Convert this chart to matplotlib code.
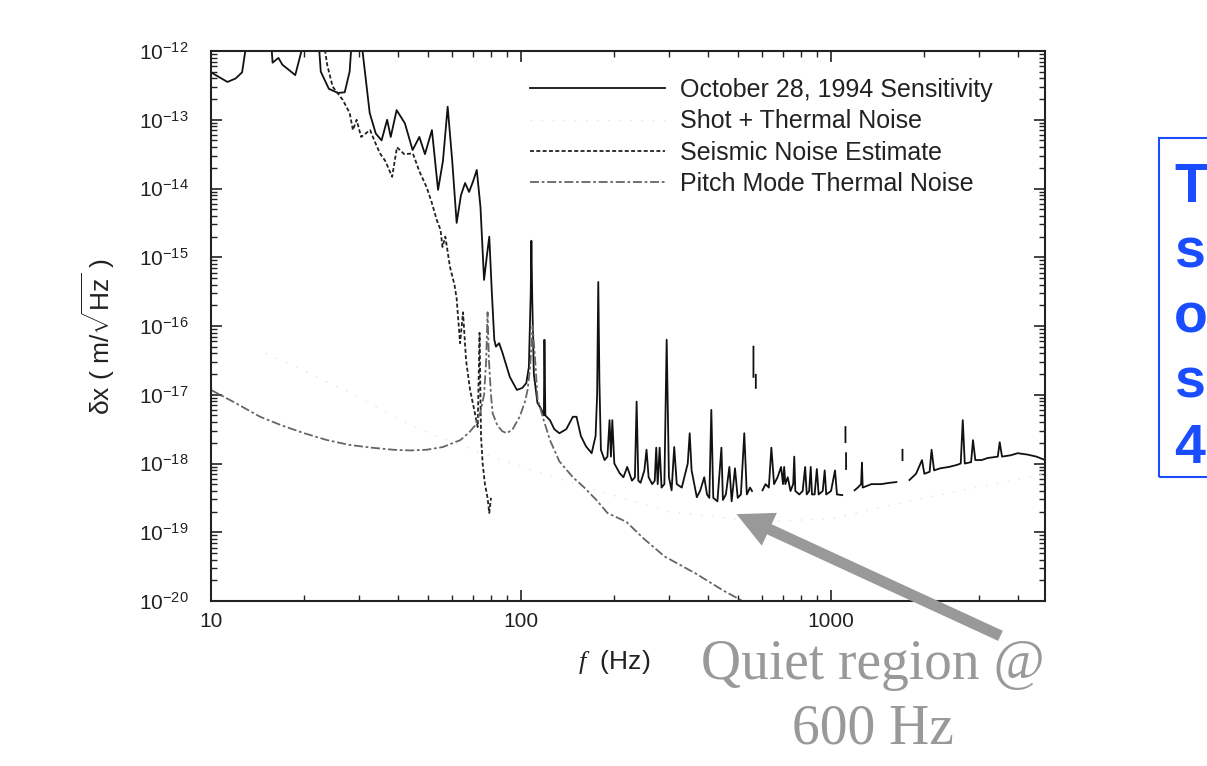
import numpy as np
import matplotlib
matplotlib.use("Agg")
import matplotlib.pyplot as plt
from matplotlib.patches import Rectangle, FancyArrowPatch

plt.rcParams['font.family'] = ['Liberation Sans', 'DejaVu Sans']
plt.rcParams['mathtext.fontset'] = 'custom'
plt.rcParams['mathtext.rm'] = 'Liberation Sans'
plt.rcParams['mathtext.it'] = 'Liberation Serif:italic'

# October 28, 1994 sensitivity (log10 of m/sqrt(Hz)), nan = gap in trace
sens_f = [10.0, 11.3, 12.0, 12.6, 13.1, 15.6, 15.8, 16.5, 17.0, 18.7, 20.1, 22.2, 22.6, 24.0, 25.7, 27.0, 28.0, 28.5,
          30.5, 31.0, 32.5, 34.0, 35.5, 37.0, 38.0, 39.7, 42.2, 44.7, 47.0, 49.0, 51.6, 54.0, 56.0, 58.0, 60.0, 62.0,
          64.0, 66.0, 68.0, 70.0, 72.0, 74.0, 76.0, 77.5, 79.0, 80.5, 82.0, 83.0, 85.0, 87.0, 92.0, 97.0, 101.0,
          104.0, 106.0, 107.5, 108.0, 108.7, 110.0, 113.0, 116.0, 118.5, 119.0, 119.8, 124.0, 128.0, 133.0, 140.0,
          147.0, 151.0, 156.0, 162.0, 169.0, 174.0, 176.0, 177.5, 179.0, 181.0, 186.0, 190.0, 193.0, 195.0, 197.0,
          200.0, 208.0, 214.0, 220.0, 228.0, 233.0, 236.0, 239.0, 243.0, 250.0, 254.0, 258.0, 265.0, 270.0, 273.0,
          276.0, 280.0, 284.0, 290.0, 295.0, 300.0, 306.0, 312.0, 318.0, 330.0, 345.0, 350.0, 355.0, 362.0, 369.0,
          378.0, 390.0, 398.0, 405.0, 411.0, 417.0, 430.0, 443.0, 448.0, 458.0, 470.0, 478.0, 490.0, 500.0, 512.0,
          525.0, 535.0, 548.0, 556.0, np.nan, 562.0, 562.0, np.nan, 572.0, 572.0, np.nan,
          601.0, 615.0, 630.0, 642.0, 655.0, 672.0, 690.0, 700.0, 706.0, 712.0, 725.0, 740.0, 755.0, 761.0, 767.0,
          790.0, 810.0, 825.0, 835.0, 850.0, 860.0, 868.0, 885.0, 900.0, 912.0, 940.0, 954.0, 965.0, 1000.0, 1030.0,
          1045.0, 1087.0, np.nan, 1113.0, 1113.0, np.nan, 1118.0, 1118.0, np.nan,
          1191.0, 1220.0, 1250.0, 1258.0, 1265.0, 1350.0, 1450.0, 1550.0, 1625.0, np.nan, 1700.0, 1700.0, np.nan,
          1790.0, 1880.0, 1965.0, 2000.0, 2080.0, 2110.0, 2150.0, 2250.0, 2400.0, 2550.0, 2620.0, 2660.0, 2700.0,
          2830.0, 2870.0, 2920.0, 3060.0, 3200.0, 3450.0, 3500.0, 3560.0, 3800.0, 4000.0, 4300.0, 4600.0, 4900.0]
sens_v = [-12.31, -12.45, -12.40, -12.31, -11.8, -11.8, -12.17, -12.10, -12.20, -12.35, -11.8, -11.8, -12.3, -12.55,
          -12.61, -12.60, -12.3, -11.8,
          -11.8, -12.1, -12.9, -13.2, -13.3, -13.0, -13.25, -12.86, -13.05, -13.44, -13.25, -13.5, -13.15, -14.02,
          -13.6, -12.81, -13.6, -14.5,
          -14.1, -13.92, -14.05, -13.9, -13.73, -14.27, -15.33, -15.0, -14.7, -15.5, -16.2, -16.3, -16.25, -16.38,
          -16.74, -16.93, -16.9,
          -16.83, -16.6, -15.5, -14.76, -15.6, -16.7, -17.12, -17.2, -17.3, -16.2, -17.3, -17.37, -17.5, -17.56,
          -17.5,
          -17.32, -17.32, -17.6, -17.75, -17.85, -17.6, -17.0, -15.36, -16.8, -17.8, -17.95, -17.9, -17.37, -17.9,
          -17.37,
          -18.0, -18.14, -18.2, -18.05, -18.25, -18.2, -17.1, -18.25, -18.28, -18.1, -17.8, -18.2, -18.3, -18.25,
          -17.77,
          -18.3, -17.77, -18.35, -18.3, -16.2, -18.2, -18.39, -17.76, -18.3, -18.35, -18.0, -17.56, -18.1, -18.3,
          -18.49,
          -18.4, -18.2, -18.45, -18.5, -17.22, -18.5, -18.55, -17.77, -18.53, -18.45, -18.05, -18.55, -18.07,
          -18.5, -18.45,
          -17.56, -18.45, -18.35, -18.4, np.nan, -16.30, -16.74, np.nan, -16.71, -16.90, np.nan,
          -18.39, -18.3, -18.35, -17.77, -18.3, -18.2, -18.05, -18.3, -18.05, -18.3, -18.2, -18.4, -18.3, -17.9,
          -18.4,
          -18.45, -18.4, -18.05, -18.45, -18.4, -18.05, -18.45, -18.45, -18.08, -18.45, -18.4, -18.1, -18.45,
          -18.4, -18.1,
          -18.45, -18.46, np.nan, -17.47, -17.69, np.nan, -17.85, -18.08, np.nan,
          -18.39, -18.35, -18.3, -17.99, -18.35, -18.3, -18.3, -18.28, -18.27, np.nan, -17.8, -17.95, np.nan,
          -18.24, -18.15, -17.95, -18.15, -18.12, -17.8, -18.1, -18.07, -18.05, -18.02, -18.0, -17.37, -18.0,
          -17.98, -17.66, -17.95, -17.95, -17.92, -17.9, -17.69, -17.9, -17.88, -17.85, -17.87, -17.9, -17.95]

# shot + thermal noise (very faint on the original)
shot_f = [15, 19, 24.5, 27, 30.5, 40, 50, 80, 150, 300, 600, 1000, 2000, 4900]
shot_v = [-16.4, -16.6, -16.85, -16.93, -17.06, -17.35, -17.55, -17.9, -18.3, -18.7, -18.85, -18.8, -18.5, -18.15]

# seismic noise estimate
seis_f = [23.0, 23.7, 24.7, 26.6, 28.0, 28.7, 29.5, 30.5, 32.6, 34.0, 35.1, 36.5, 38.4, 39.8, 42.0, 44.8, 47.0,
          49.6, 51.5, 53.5, 55.0, 55.8, 57.0, 59.0, 61.0, 62.0, 63.6, 65.0, 66.5, 68.5, 70.5, 72.5, 73.5, 74.3,
          75.2, 76.5, 78.0, 79.0, 80.0]
seis_v = [-11.8, -12.2, -12.52, -12.71, -12.9, -13.15, -13.0, -13.25, -13.15, -13.35, -13.49, -13.6, -13.83, -13.4,
          -13.5, -13.49, -13.75, -13.98, -14.2, -14.46, -14.6, -14.85, -14.7, -15.14, -15.4, -15.6, -16.25, -15.8,
          -16.5, -16.93, -17.2, -17.47, -16.1, -17.6, -18.0, -18.3, -18.5, -18.72, -18.5]

# pitch mode thermal noise
pitch_f = [10, 12, 14.4, 17, 20, 23.7, 28, 33, 38.7, 44, 49.6, 56, 63.7, 68, 71, 74, 76, 77.2, 78, 78.8, 80, 81, 84,
           87, 90, 94, 99, 103, 105, 107, 109, 111.5, 113, 118, 124, 133, 147, 160, 175, 190, 219, 247, 290, 366,
           450, 549]
pitch_v = [-16.93, -17.12, -17.32, -17.45, -17.56, -17.66, -17.73, -17.77, -17.80, -17.81, -17.80, -17.76, -17.66,
           -17.55, -17.45, -17.25, -17.0, -16.5, -15.8, -16.5, -17.0, -17.27, -17.45, -17.53, -17.56, -17.5, -17.32,
           -17.1, -16.93, -16.6, -16.0, -16.6, -17.05, -17.35, -17.66, -17.97, -18.2, -18.35, -18.53, -18.72,
           -18.85, -19.08, -19.35, -19.6, -19.85, -20.06]

y_ticks = [-12, -13, -14, -15, -16, -17, -18, -19, -20]

fig = plt.figure(figsize=(12.07, 7.66), dpi=100)
ax = fig.add_axes([0.1748, 0.2154, 0.6910, 0.7180])

ax.plot(sens_f, 10.0 ** np.array(sens_v), color='#111111', lw=1.3, label='October 28, 1994 Sensitivity')
ax.plot(shot_f, 10.0 ** np.array(shot_v), color='#e4e4e4', lw=1.0, ls=(0, (1, 7)), label='Shot + Thermal Noise')
ax.plot(seis_f, 10.0 ** np.array(seis_v), color='#222222', lw=1.3, ls=(0, (2.2, 1.3)), label='Seismic Noise Estimate')
ax.plot(pitch_f, 10.0 ** np.array(pitch_v), color='#666666', lw=1.3, ls=(0, (5, 1.5, 1.5, 1.5)),
        label='Pitch Mode Thermal Noise')

ax.set_xscale('log')
ax.set_yscale('log')
ax.set_xlim(10, 4900)
ax.set_ylim(1e-20, 1e-12)

ax.set_xticks([10, 100, 1000])
ax.set_xticklabels(['10', '100', '1000'])
ax.set_yticks([10.0 ** t for t in y_ticks])
ax.set_yticklabels([r'$10^{%d}$' % t for t in y_ticks])
ax.tick_params(which='both', direction='in', top=True, right=True, colors='#222222')
ax.tick_params(which='major', length=8, width=1.2, labelsize=15)
ax.tick_params(which='minor', length=4, width=1.0)
ax.tick_params(axis='y', pad=16)
ax.tick_params(axis='x', pad=8)
for s in ax.spines.values():
    s.set_linewidth(1.5)
    s.set_color('#222222')

ax.legend(loc='upper left', bbox_to_anchor=(530 / 1207, 1 - 78 / 766), bbox_transform=fig.transFigure,
          frameon=False, fontsize=18, handlelength=5.4, handletextpad=0.6, labelspacing=0.29,
          borderpad=0, borderaxespad=0, labelcolor='#222222')

fig.text(98 / 1207, 1 - 336 / 766, r'δx ( m/$\sqrt{\mathrm{Hz}}$ )', rotation=90, ha='center', va='center',
         fontsize=19, color='#222222')
fig.text(614 / 1207, 1 - 662 / 766, r'$f$  (Hz)', ha='center', va='center', fontsize=19, color='#222222')

# gray annotation with arrow
fig.text(873 / 1207, 1 - 697 / 766, 'Quiet region @\n600 Hz', ha='center', va='center', fontsize=40,
         family='Liberation Serif', color='#999999', linespacing=1.32)
arrow = FancyArrowPatch((1003 / 1207, 1 - 637 / 766), (734 / 1207, 1 - 513 / 766), transform=fig.transFigure,
                        arrowstyle='simple,head_length=2.6,head_width=2.6,tail_width=0.8', mutation_scale=10,
                        color='#999999', lw=0)
fig.patches.append(arrow)

# clipped blue box on the right
fig.patches.append(Rectangle((1159 / 1207, 1 - 477 / 766), 0.2, 339 / 766, transform=fig.transFigure,
                             fill=False, edgecolor='#1a4dff', lw=1.5))
fig.text(1174 / 1207, 1 - 162 / 766, 'T\ns\no\ns\n4', ha='left', va='top', fontsize=40, weight='bold',
         color='#1a4dff', linespacing=1.33)

fig.savefig('out.png', dpi=100)
